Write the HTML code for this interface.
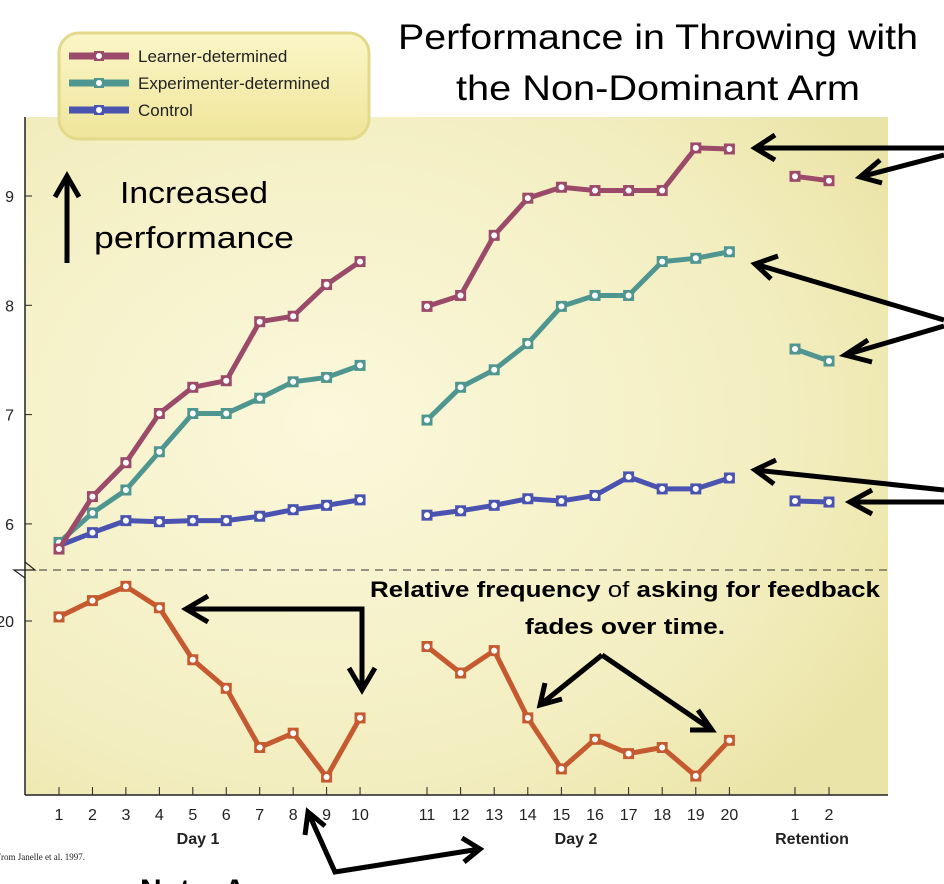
<!DOCTYPE html>
<html><head><meta charset="utf-8">
<style>
body{margin:0;background:#fff;width:944px;height:884px;overflow:hidden;font-family:"Liberation Sans",sans-serif}
svg{display:block}
</style></head>
<body>
<svg id="chart" width="944" height="884" viewBox="0 0 944 884">
<defs>
<radialGradient id="bg" cx="0.35" cy="0.45" r="0.75">
<stop offset="0" stop-color="#fbf8dc"/><stop offset="0.7" stop-color="#f3eec0"/><stop offset="1" stop-color="#ebe4a8"/>
</radialGradient>
<linearGradient id="lg" x1="0" y1="0" x2="0" y2="1">
<stop offset="0" stop-color="#fbf6c8"/><stop offset="1" stop-color="#efe59a"/>
</linearGradient>
</defs>
<rect x="25" y="117" width="863" height="678" fill="url(#bg)"/>
<line x1="25" y1="117" x2="25" y2="795" stroke="#222" stroke-width="1.5"/>
<line x1="25" y1="795" x2="888" y2="795" stroke="#222" stroke-width="1.5"/>
<line x1="25" y1="570" x2="888" y2="570" stroke="#333" stroke-width="1" stroke-dasharray="8,6"/>
<path d="M25,562 L35,570 L14,570 L25,578" fill="none" stroke="#222" stroke-width="1.2"/>
<g id="ticks"></g>
<g id="series"></g>

<g>
<rect x="59" y="33" width="310" height="106" rx="20" fill="url(#lg)" stroke="#e2d98a" stroke-width="3"/>
<g>
<line x1="69" y1="56" x2="129" y2="56" stroke="#9b4a6a" stroke-width="7"/><rect x="94" y="51" width="10" height="10" fill="#9b4a6a"/><circle cx="99" cy="56" r="3" fill="#fff"/>
<text x="138" y="62" font-size="17" fill="#222">Learner-determined</text></g>
<g>
<line x1="69" y1="83" x2="129" y2="83" stroke="#4f9690" stroke-width="7"/><rect x="94" y="78" width="10" height="10" fill="#4f9690"/><circle cx="99" cy="83" r="3" fill="#fff"/>
<text x="138" y="89" font-size="17" fill="#222">Experimenter-determined</text></g>
<g>
<line x1="69" y1="110" x2="129" y2="110" stroke="#4a54b0" stroke-width="7"/><rect x="94" y="105" width="10" height="10" fill="#4a54b0"/><circle cx="99" cy="110" r="3" fill="#fff"/>
<text x="138" y="116" font-size="17" fill="#222">Control</text></g>
</g>

<text x="658" y="49" font-size="35" text-anchor="middle" fill="#000" textLength="520" lengthAdjust="spacingAndGlyphs">Performance in Throwing with</text>
<text x="658" y="100" font-size="35" text-anchor="middle" fill="#000" textLength="404" lengthAdjust="spacingAndGlyphs">the Non-Dominant Arm</text>

<g>
<line x1="67" y1="263" x2="67" y2="180" stroke="#000" stroke-width="5"/>
<path d="M55,197 L67,176 L79,197" fill="none" stroke="#000" stroke-width="5"/>
<text x="194" y="203" font-size="31" text-anchor="middle" fill="#000" textLength="148" lengthAdjust="spacingAndGlyphs">Increased</text>
<text x="194" y="248" font-size="31" text-anchor="middle" fill="#000" textLength="200" lengthAdjust="spacingAndGlyphs">performance</text>
</g>

<g stroke="#000" stroke-width="5" fill="none">
<path d="M944,148 L755,148 M775,135 L755,148 L775,160"/>
<path d="M944,155 L860,177 M880,160 L860,177 L882,183"/>
<path d="M944,320 L755,264 M778,256 L755,264 L771,279"/>
<path d="M944,326 L845,355 M868,340 L845,355 L872,362"/>
<path d="M944,490 L755,470 M776,460 L755,470 L774,484"/>
<path d="M944,502 L850,502 M872,490 L850,502 L872,514"/>
<path d="M362,609 L186,609 L362,609 L362,690 M208,596 L186,609 L208,622 M349,668 L362,690 L375,668"/>
<path d="M602,655 L540,705 M545,683 L540,705 L562,699 M602,655 L712,730 M698,710 L712,730 L690,730"/>
<path d="M308,812 L335,872 L480,849 M305,835 L308,812 L325,826 M462,838 L480,849 L464,862"/>
</g>

<text x="625" y="597" font-size="22" font-weight="bold" text-anchor="middle" fill="#000" textLength="510" lengthAdjust="spacingAndGlyphs">Relative frequency <tspan font-weight="normal">of</tspan> asking for feedback</text>
<text x="625" y="634" font-size="22" font-weight="bold" text-anchor="middle" fill="#000" textLength="200" lengthAdjust="spacingAndGlyphs">fades over time.</text>

<text x="198" y="844" font-size="16" font-weight="bold" text-anchor="middle" fill="#222">Day 1</text>
<text x="576" y="844" font-size="16" font-weight="bold" text-anchor="middle" fill="#222">Day 2</text>
<text x="812" y="844" font-size="16" font-weight="bold" text-anchor="middle" fill="#222">Retention</text>
<text x="-4" y="860" font-size="9" font-family="Liberation Serif,serif" fill="#222">From Janelle et al. 1997.</text>
<text x="140" y="900" font-size="30" font-weight="bold" fill="#000">Note: A</text>
</svg>
<script>
const sessions1=[1,2,3,4,5,6,7,8,9,10];
const sessions2=[11,12,13,14,15,16,17,18,19,20];
const retention=[1,2];
const yTicks=[6,7,8,9];
const learnerDay1=[5.77,6.25,6.56,7.01,7.25,7.31,7.85,7.90,8.19,8.40];
const learnerDay2=[7.99,8.09,8.64,8.98,9.08,9.05,9.05,9.05,9.44,9.43];
const learnerRet=[9.18,9.14];
const expDay1=[5.83,6.10,6.31,6.66,7.01,7.01,7.15,7.30,7.34,7.45];
const expDay2=[6.95,7.25,7.41,7.65,7.99,8.09,8.09,8.40,8.43,8.49];
const expRet=[7.60,7.49];
const ctrlDay1=[5.80,5.92,6.03,6.02,6.03,6.03,6.07,6.13,6.17,6.22];
const ctrlDay2=[6.08,6.12,6.17,6.23,6.21,6.26,6.43,6.32,6.32,6.42];
const ctrlRet=[6.21,6.20];
const feedbackDay1=[20.4,22.0,23.4,21.3,16.2,13.4,7.6,9.0,4.7,10.5];
const feedbackDay2=[17.5,14.9,17.1,10.5,5.5,8.4,7.0,7.6,4.8,8.3];
const feedbackTicks=[20];

const NS="http://www.w3.org/2000/svg";
function xSession(s){return s<=10 ? 59+(s-1)*33.45 : 427+(s-11)*33.6;}
function xRet(r){return 795+(r-1)*34;}
function yPerf(v){return 196+(9-v)*109.3;}
function yFb(v){return 621+(20-v)*10.2;}
function mk(tag,attrs,parent){const e=document.createElementNS(NS,tag);for(const k in attrs)e.setAttribute(k,attrs[k]);parent.appendChild(e);return e;}
const ticks=document.getElementById('ticks');
const ser=document.getElementById('series');
yTicks.forEach(v=>{
  const l=mk('line',{x1:25,x2:32,y1:yPerf(v),y2:yPerf(v),stroke:'#222'},ticks);
  
  
  const t=mk('text',{x:14,y:yPerf(v)+6,'font-size':16,'text-anchor':'end',fill:'#222'},ticks);
  t.textContent=v;
  
  
});
feedbackTicks.forEach(v=>{
  const l=mk('line',{x1:25,x2:32,y1:yFb(v),y2:yFb(v),stroke:'#222'},ticks);
  
  
  const t=mk('text',{x:14,y:yFb(v)+6,'font-size':16,'text-anchor':'end',fill:'#222'},ticks);
  t.textContent=v;
  
  
});
function xtick(x,label){
  const l=mk('line',{x1:x,x2:x,y1:787,y2:795,stroke:'#222'},ticks);
  
  
  const t=mk('text',{x:x,y:820,'font-size':16,'text-anchor':'middle',fill:'#222'},ticks);
  t.textContent=label;
  
  
}
sessions1.forEach(s=>xtick(xSession(s),s));
sessions2.forEach(s=>xtick(xSession(s),s));
retention.forEach(r=>xtick(xRet(r),r));

function drawLine(xs,vals,yf,color,name){
  const g=mk('g',{},ser);
  
  
  const pts=vals.map((v,i)=>xs[i]+','+yf(v)).join(' ');
  mk('polyline',{points:pts,fill:'none',stroke:color,'stroke-width':5,'stroke-linejoin':'round'},g);
  vals.forEach((v,i)=>{
    const r=mk('rect',{x:xs[i]-5.5,y:yf(v)-5.5,width:11,height:11,fill:color},g);
    
    
    mk('circle',{cx:xs[i],cy:yf(v),r:3,fill:'#fff'},g);
  });
}
const x1=sessions1.map(xSession),x2=sessions2.map(xSession),xr=retention.map(xRet);
const LC='#9b4a6a',EC='#4f9690',CC='#4a54b0',FC='#c55a30';
drawLine(x1,ctrlDay1,yPerf,CC,'control-day1');
drawLine(x2,ctrlDay2,yPerf,CC,'control-day2');
drawLine(xr,ctrlRet,yPerf,CC,'control-retention');
drawLine(x1,expDay1,yPerf,EC,'experimenter-day1');
drawLine(x2,expDay2,yPerf,EC,'experimenter-day2');
drawLine(xr,expRet,yPerf,EC,'experimenter-retention');
drawLine(x1,learnerDay1,yPerf,LC,'learner-day1');
drawLine(x2,learnerDay2,yPerf,LC,'learner-day2');
drawLine(xr,learnerRet,yPerf,LC,'learner-retention');
drawLine(x1,feedbackDay1,yFb,FC,'feedback-day1');
drawLine(x2,feedbackDay2,yFb,FC,'feedback-day2');
</script>
</body></html>
